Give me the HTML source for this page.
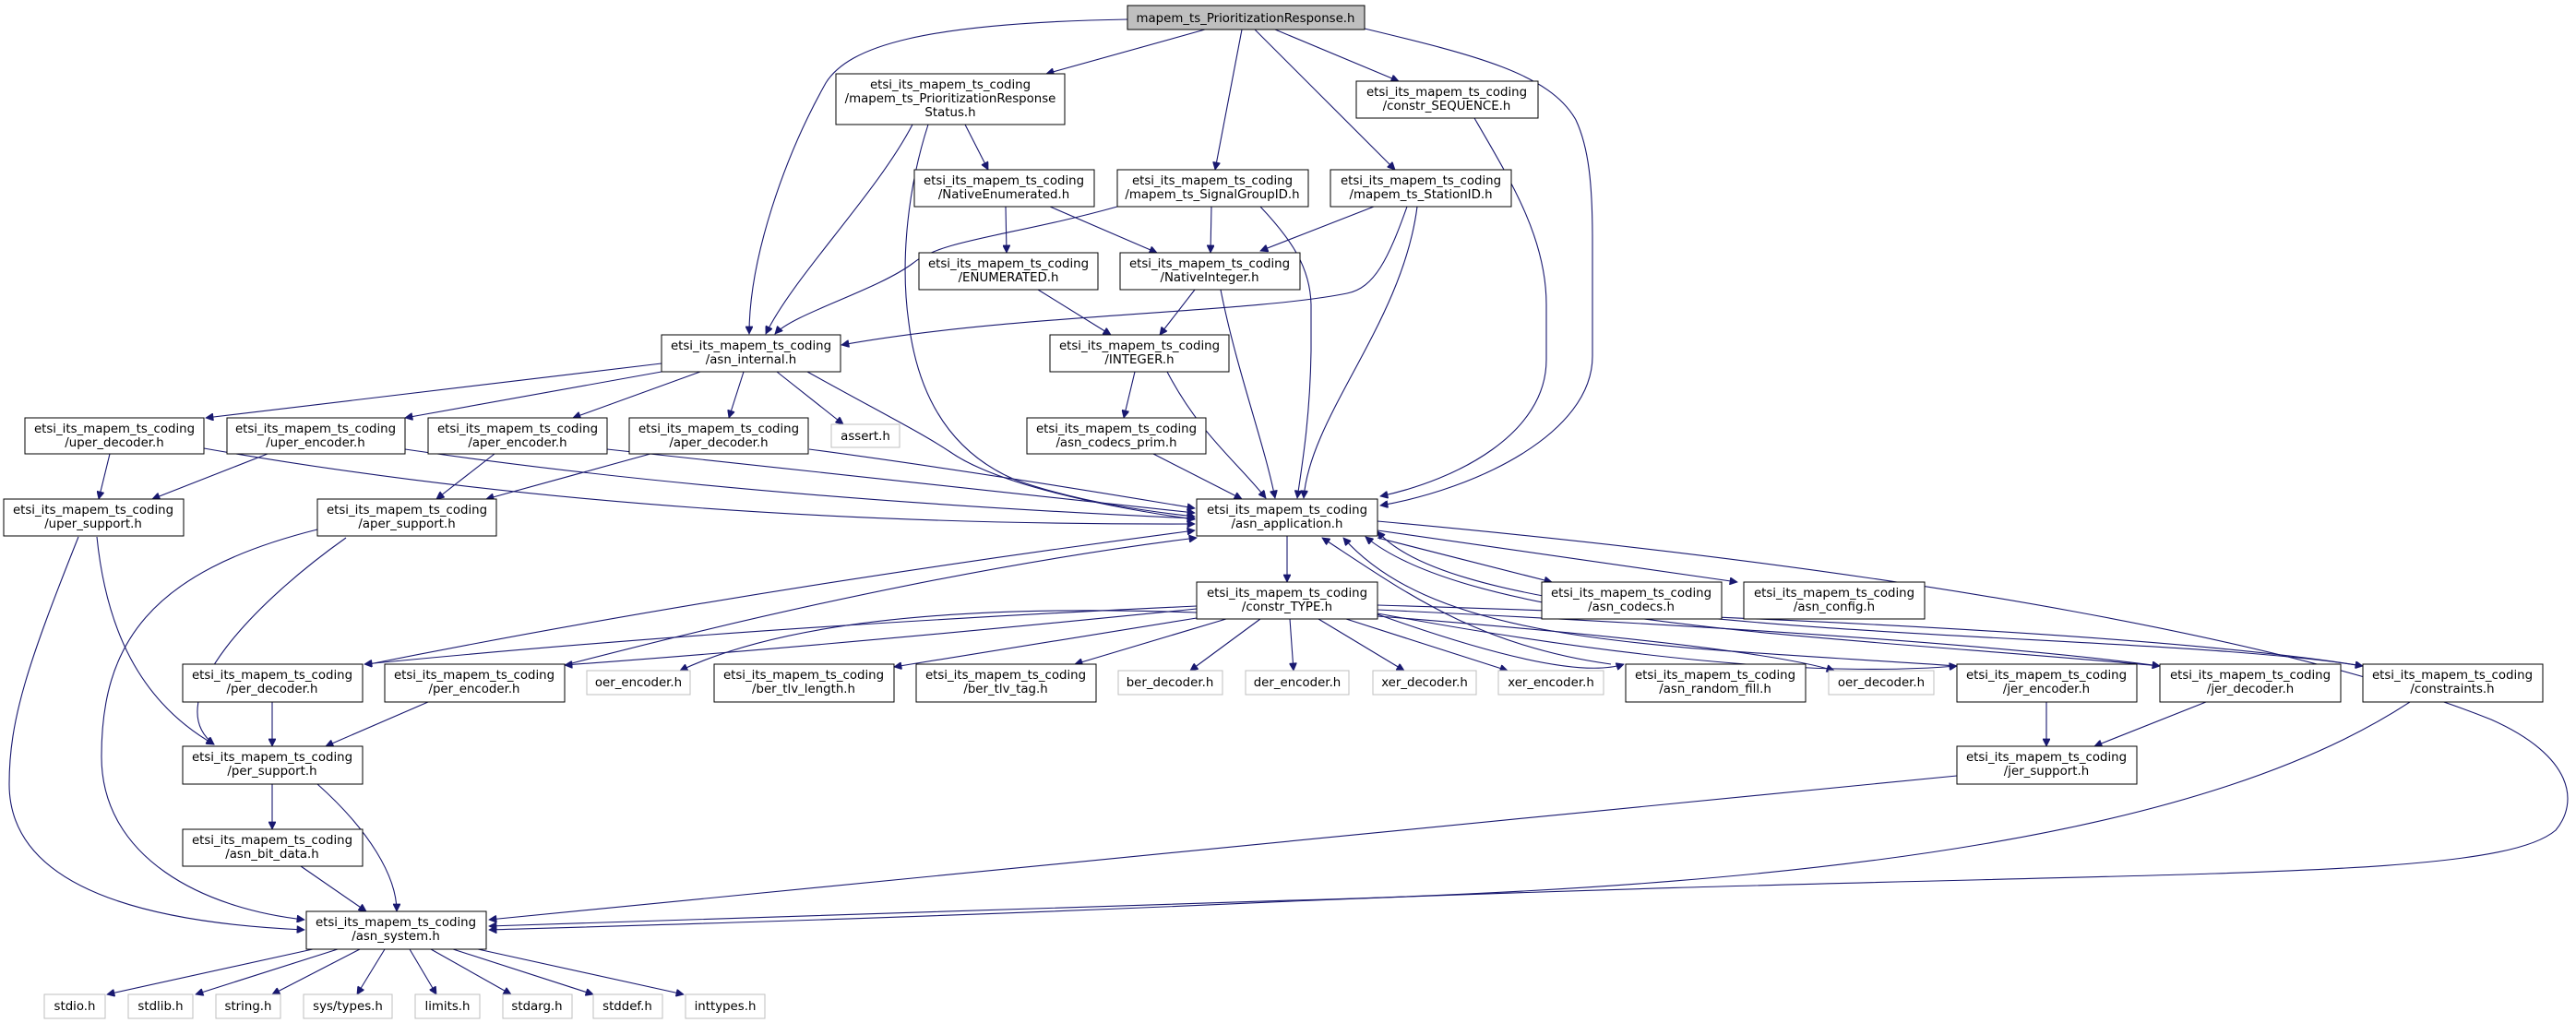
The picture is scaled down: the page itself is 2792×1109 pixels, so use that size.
<!DOCTYPE html>
<html><head><meta charset="utf-8"><style>
html,body{margin:0;padding:0;background:#fff}
svg{display:block}
text{font-family:"DejaVu Sans","Liberation Sans",sans-serif;font-size:13.33px;fill:#000;text-anchor:middle}
.n{fill:#fff;stroke:#000;stroke-width:1}
.g{fill:#fff;stroke:#bfbfbf;stroke-width:1}
.e{fill:none;stroke:#191970;stroke-width:1.1}
</style></head><body>
<svg width="2792" height="1109" viewBox="0 0 2792 1109" xmlns="http://www.w3.org/2000/svg">
<defs><marker id="a" viewBox="0 0 10 10" refX="10" refY="5" markerWidth="11" markerHeight="8" markerUnits="userSpaceOnUse" orient="auto"><path d="M0,0 L10,5 L0,10 z" fill="#191970" stroke="#191970"/></marker></defs>
<g class="e" marker-end="url(#a)">
<path d="M1222,21 C1000,25 920,50 895,90 C850,170 812,280 812,362"/>
<path d="M1306,32 L1134,80"/>
<path d="M1346,32 L1317,184"/>
<path d="M1360,32 L1512,184"/>
<path d="M1382,32 L1516,88"/>
<path d="M1479,31 C1600,60 1680,80 1708,130 C1722,160 1726,200 1726,260 L1726,386 C1726,470 1600,530 1496,548"/>
<path d="M1598,128 C1640,200 1676,260 1676,330 L1676,390 C1676,470 1580,520 1496,538"/>
<path d="M1046,135 L1071,184"/>
<path d="M989,135 C950,210 860,300 830,362"/>
<path d="M1006,135 C985,200 975,280 985,350 C995,430 1030,490 1100,520 C1170,545 1250,555 1295,560"/>
<path d="M1090,224 L1091,274"/>
<path d="M1138,224 L1254,274"/>
<path d="M1313,224 L1312,274"/>
<path d="M1211,224 C1100,255 1020,260 990,285 C950,315 860,340 840,362"/>
<path d="M1366,224 C1400,260 1420,290 1421,330 L1421,380 C1420,450 1412,500 1406,540"/>
<path d="M1489,224 L1366,272"/>
<path d="M1525,224 C1505,280 1490,312 1460,318 C1350,340 1100,340 912,374"/>
<path d="M1536,224 C1520,350 1420,450 1413,540"/>
<path d="M1125,314 L1204,363"/>
<path d="M1295,314 L1257,363"/>
<path d="M1323,314 C1340,400 1370,480 1382,540"/>
<path d="M1230,403 L1218,453"/>
<path d="M1265,403 C1300,470 1340,500 1372,540"/>
<path d="M1250,492 L1346,541"/>
<path d="M717,394 L223,453"/>
<path d="M717,403 L439,453"/>
<path d="M759,403 L621,453"/>
<path d="M806,403 L790,453"/>
<path d="M842,403 L914,460"/>
<path d="M875,403 C960,450 1000,470 1030,490 C1080,525 1200,550 1295,563"/>
<path d="M119,492 L107,541"/>
<path d="M221,486 Q700,570 1295,568"/>
<path d="M290,492 L165,541"/>
<path d="M439,487 Q800,540 1295,562"/>
<path d="M536,492 L473,541"/>
<path d="M658,487 Q950,520 1295,556"/>
<path d="M705,492 L527,541"/>
<path d="M877,487 Q1050,510 1295,551"/>
<path d="M105,582 C115,680 150,760 232,807"/>
<path d="M85,582 C30,720 10,780 10,850 C10,960 150,1000 330,1008"/>
<path d="M375,583 C280,650 170,760 232,807"/>
<path d="M344,574 C160,620 110,700 110,820 C110,930 220,985 330,997"/>
<path d="M295,761 L295,809"/>
<path d="M464,761 L353,809"/>
<path d="M400,720 Q800,640 1295,575"/>
<path d="M616,720 Q1000,620 1297,583"/>
<path d="M1297,657 Q800,680 395,720"/>
<path d="M1297,660 Q900,700 612,721"/>
<path d="M1297,664 Q900,650 737,727"/>
<path d="M1297,670 L969,723"/>
<path d="M1329,671 L1165,720"/>
<path d="M1366,671 L1290,727"/>
<path d="M1398,671 L1402,727"/>
<path d="M1429,671 L1522,727"/>
<path d="M1459,671 L1634,727"/>
<path d="M1493,666 Q1700,740 1760,720"/>
<path d="M1493,668 Q1900,700 1988,727"/>
<path d="M1493,665 Q1900,740 2121,722"/>
<path d="M1493,661 Q2100,690 2341,722"/>
<path d="M1493,656 Q2300,680 2561,722"/>
<path d="M1746,720 C1600,700 1520,640 1433,583"/>
<path d="M2121,722 C1800,700 1560,700 1456,583"/>
<path d="M2341,722 C2000,690 1600,680 1480,582"/>
<path d="M2561,722 C2300,680 1600,700 1493,576"/>
<path d="M1395,581 L1395,631"/>
<path d="M1493,583 L1682,631"/>
<path d="M1493,575 L1883,631"/>
<path d="M1493,565 C2100,620 2500,700 2700,780 C2790,820 2795,870 2770,900 C2700,960 2300,940 1400,977 C1000,995 700,1003 530,1008"/>
<path d="M2218,761 L2218,809"/>
<path d="M2391,761 L2270,809"/>
<path d="M2121,841 L530,997"/>
<path d="M2612,761 C2400,900 2000,960 1400,976 C1000,990 700,1000 530,1004"/>
<path d="M295,850 L295,899"/>
<path d="M344,850 C400,900 430,950 430,988"/>
<path d="M326,939 L397,988"/>
<path d="M339,1029 L116,1078"/>
<path d="M366,1029 L212,1078"/>
<path d="M390,1029 L295,1078"/>
<path d="M417,1029 L387,1078"/>
<path d="M444,1029 L473,1078"/>
<path d="M467,1029 L554,1078"/>
<path d="M491,1029 L643,1078"/>
<path d="M518,1029 L741,1078"/>
</g>
<rect x="1222" y="6" width="257" height="26" fill="#bfbfbf" stroke="#000"/>
<text x="1350" y="24">mapem_ts_PrioritizationResponse.h</text>
<rect class="n" x="906" y="80" width="248" height="55"/>
<text x="1030" y="96">etsi_its_mapem_ts_coding</text><text x="1030" y="111">/mapem_ts_PrioritizationResponse</text><text x="1030" y="126">Status.h</text>
<rect class="n" x="1470" y="88" width="197" height="40"/><text x="1568" y="104">etsi_its_mapem_ts_coding</text><text x="1568" y="119">/constr_SEQUENCE.h</text>
<rect class="n" x="991" y="184" width="195" height="40"/><text x="1088" y="200">etsi_its_mapem_ts_coding</text><text x="1088" y="215">/NativeEnumerated.h</text>
<rect class="n" x="1211" y="184" width="207" height="40"/><text x="1314" y="200">etsi_its_mapem_ts_coding</text><text x="1314" y="215">/mapem_ts_SignalGroupID.h</text>
<rect class="n" x="1442" y="184" width="196" height="40"/><text x="1540" y="200">etsi_its_mapem_ts_coding</text><text x="1540" y="215">/mapem_ts_StationID.h</text>
<rect class="n" x="996" y="274" width="194" height="40"/><text x="1093" y="290">etsi_its_mapem_ts_coding</text><text x="1093" y="305">/ENUMERATED.h</text>
<rect class="n" x="1214" y="274" width="195" height="40"/><text x="1311" y="290">etsi_its_mapem_ts_coding</text><text x="1311" y="305">/NativeInteger.h</text>
<rect class="n" x="717" y="363" width="194" height="40"/><text x="814" y="379">etsi_its_mapem_ts_coding</text><text x="814" y="394">/asn_internal.h</text>
<rect class="n" x="1138" y="363" width="194" height="40"/><text x="1235" y="379">etsi_its_mapem_ts_coding</text><text x="1235" y="394">/INTEGER.h</text>
<rect class="n" x="27" y="453" width="194" height="39"/><text x="124" y="469">etsi_its_mapem_ts_coding</text><text x="124" y="484">/uper_decoder.h</text>
<rect class="n" x="246" y="453" width="193" height="39"/><text x="342" y="469">etsi_its_mapem_ts_coding</text><text x="342" y="484">/uper_encoder.h</text>
<rect class="n" x="464" y="453" width="194" height="39"/><text x="561" y="469">etsi_its_mapem_ts_coding</text><text x="561" y="484">/aper_encoder.h</text>
<rect class="n" x="682" y="453" width="194" height="39"/><text x="779" y="469">etsi_its_mapem_ts_coding</text><text x="779" y="484">/aper_decoder.h</text>
<rect class="g" x="901" y="460" width="74" height="25"/><text x="938" y="477">assert.h</text>
<rect class="n" x="1113" y="453" width="194" height="39"/><text x="1210" y="469">etsi_its_mapem_ts_coding</text><text x="1210" y="484">/asn_codecs_prim.h</text>
<rect class="n" x="4" y="541" width="195" height="40"/><text x="101" y="557">etsi_its_mapem_ts_coding</text><text x="101" y="572">/uper_support.h</text>
<rect class="n" x="344" y="541" width="194" height="40"/><text x="441" y="557">etsi_its_mapem_ts_coding</text><text x="441" y="572">/aper_support.h</text>
<rect class="n" x="1297" y="541" width="196" height="40"/><text x="1395" y="557">etsi_its_mapem_ts_coding</text><text x="1395" y="572">/asn_application.h</text>
<rect class="n" x="1297" y="631" width="196" height="40"/><text x="1395" y="647">etsi_its_mapem_ts_coding</text><text x="1395" y="662">/constr_TYPE.h</text>
<rect class="n" x="1671" y="631" width="195" height="40"/><text x="1768" y="647">etsi_its_mapem_ts_coding</text><text x="1768" y="662">/asn_codecs.h</text>
<rect class="n" x="1890" y="631" width="196" height="40"/><text x="1988" y="647">etsi_its_mapem_ts_coding</text><text x="1988" y="662">/asn_config.h</text>
<rect class="n" x="198" y="720" width="195" height="41"/><text x="295" y="736">etsi_its_mapem_ts_coding</text><text x="295" y="751">/per_decoder.h</text>
<rect class="n" x="417" y="720" width="195" height="41"/><text x="514" y="736">etsi_its_mapem_ts_coding</text><text x="514" y="751">/per_encoder.h</text>
<rect class="g" x="636" y="727" width="112" height="26"/><text x="692" y="744">oer_encoder.h</text>
<rect class="n" x="774" y="720" width="195" height="41"/><text x="871" y="736">etsi_its_mapem_ts_coding</text><text x="871" y="751">/ber_tlv_length.h</text>
<rect class="n" x="993" y="720" width="195" height="41"/><text x="1090" y="736">etsi_its_mapem_ts_coding</text><text x="1090" y="751">/ber_tlv_tag.h</text>
<rect class="g" x="1212" y="727" width="113" height="26"/><text x="1268" y="744">ber_decoder.h</text>
<rect class="g" x="1350" y="727" width="112" height="26"/><text x="1406" y="744">der_encoder.h</text>
<rect class="g" x="1488" y="727" width="112" height="26"/><text x="1544" y="744">xer_decoder.h</text>
<rect class="g" x="1624" y="727" width="114" height="26"/><text x="1681" y="744">xer_encoder.h</text>
<rect class="n" x="1762" y="720" width="195" height="41"/><text x="1859" y="736">etsi_its_mapem_ts_coding</text><text x="1859" y="751">/asn_random_fill.h</text>
<rect class="g" x="1982" y="727" width="114" height="26"/><text x="2039" y="744">oer_decoder.h</text>
<rect class="n" x="2121" y="720" width="195" height="41"/><text x="2218" y="736">etsi_its_mapem_ts_coding</text><text x="2218" y="751">/jer_encoder.h</text>
<rect class="n" x="2341" y="720" width="196" height="41"/><text x="2439" y="736">etsi_its_mapem_ts_coding</text><text x="2439" y="751">/jer_decoder.h</text>
<rect class="n" x="2561" y="720" width="195" height="41"/><text x="2658" y="736">etsi_its_mapem_ts_coding</text><text x="2658" y="751">/constraints.h</text>
<rect class="n" x="198" y="809" width="195" height="41"/><text x="295" y="825">etsi_its_mapem_ts_coding</text><text x="295" y="840">/per_support.h</text>
<rect class="n" x="2121" y="809" width="195" height="41"/><text x="2218" y="825">etsi_its_mapem_ts_coding</text><text x="2218" y="840">/jer_support.h</text>
<rect class="n" x="198" y="899" width="195" height="40"/><text x="295" y="915">etsi_its_mapem_ts_coding</text><text x="295" y="930">/asn_bit_data.h</text>
<rect class="n" x="332" y="988" width="195" height="41"/><text x="429" y="1004">etsi_its_mapem_ts_coding</text><text x="429" y="1019">/asn_system.h</text>
<rect class="g" x="48" y="1078" width="66" height="26"/><text x="81" y="1095">stdio.h</text>
<rect class="g" x="139" y="1078" width="70" height="26"/><text x="174" y="1095">stdlib.h</text>
<rect class="g" x="234" y="1078" width="70" height="26"/><text x="269" y="1095">string.h</text>
<rect class="g" x="329" y="1078" width="96" height="26"/><text x="377" y="1095">sys/types.h</text>
<rect class="g" x="450" y="1078" width="70" height="26"/><text x="485" y="1095">limits.h</text>
<rect class="g" x="545" y="1078" width="75" height="26"/><text x="582" y="1095">stdarg.h</text>
<rect class="g" x="643" y="1078" width="75" height="26"/><text x="680" y="1095">stddef.h</text>
<rect class="g" x="743" y="1078" width="86" height="26"/><text x="786" y="1095">inttypes.h</text>
</svg>
</body></html>
